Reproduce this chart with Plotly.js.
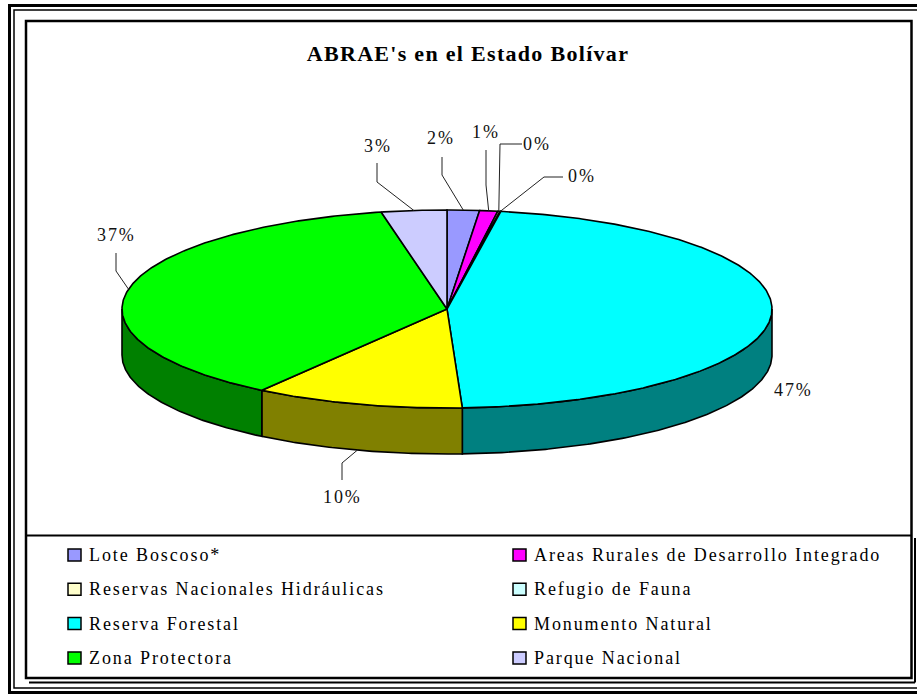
<!DOCTYPE html>
<html><head><meta charset="utf-8">
<script src="https://cdn.plot.ly/plotly-3.0.1.min.js"></script>
<style>
html,body{margin:0;padding:0;background:#fff;}
#chart{width:917px;height:694px;}
.annotation-text{letter-spacing:1.9px;}
.gtitle{letter-spacing:1.3px;}
</style></head><body><div id="chart"></div>
<script>
// ---- data ----
const categories = ["Lote Boscoso*", "Areas Rurales de Desarrollo Integrado", "Reservas Nacionales Hidráulicas", "Refugio de Fauna", "Reserva Forestal", "Monumento Natural", "Zona Protectora", "Parque Nacional"];
const values = [1.6, 0.9, 0.1, 0.05, 46.6, 10.4, 37.1, 3.25];
const topColors = ["#9999FF", "#FF00FF", "#FFFFCC", "#CCFFFF", "#00FFFF", "#FFFF00", "#00FF00", "#CCCCFF"];
const sideColors = ["#4D4D80", "#800080", "#808066", "#668080", "#008080", "#808000", "#008000", "#666680"];

// ---- layout constants (pixel space) ----
const CX = 447, CY = 309, RX = 325, RY = 99, DEPTH = 46;
const SERIF = "Liberation Serif, Times New Roman, serif";
// label centre and leader-line start/elbow for each slice
const labelLayout = [
  {x: 441, y: 138, leader: [[442, 157], [442, 175]]},
  {x: 486, y: 132, leader: [[486, 150], [486, 185]]},
  {x: 537, y: 144, leader: [[522, 144], [500, 144]]},
  {x: 582, y: 176, leader: [[563, 177], [544, 177]]},
  {x: 793, y: 390, leader: null},
  {x: 342, y: 497, leader: [[342, 480], [342, 463]]},
  {x: 116, y: 235, leader: [[116, 253], [116, 271]]},
  {x: 378, y: 146, leader: [[377, 163], [377, 182]]}
];

const total = values.reduce((a, b) => a + b, 0);
function pt(t, dz) {
  const r = t * Math.PI / 180;
  return [CX + RX * Math.sin(r), CY - RY * Math.cos(r) + (dz || 0)];
}
function arc(a, b, dz) {
  const pts = [];
  const n = Math.max(2, Math.ceil(Math.abs(b - a) / 0.5));
  for (let k = 0; k <= n; k++) pts.push(pt(a + (b - a) * k / n, dz));
  return pts;
}

const walls = [], tops = [];
const starts = [], ends = [];
let acc = 0;
values.forEach((v, i) => {
  const a = acc / total * 360;
  acc += v;
  const b = acc / total * 360;
  starts.push(a); ends.push(b);
  // top sector
  const tp = [[CX, CY]].concat(arc(a, b, 0)).concat([[CX, CY]]);
  tops.push({
    type: "scatter", mode: "lines", fill: "toself",
    x: tp.map(p => p[0]), y: tp.map(p => p[1]),
    fillcolor: topColors[i], line: {color: "#000", width: 1.6},
    name: categories[i], showlegend: false, hoverinfo: "name"
  });
  // front wall
  const wa = Math.max(a, 90), wb = Math.min(b, 270);
  if (wb > wa) {
    const up = arc(wa, wb, 0), dn = arc(wa, wb, DEPTH).reverse();
    const wp = up.concat(dn).concat([up[0]]);
    walls.push({
      type: "scatter", mode: "lines", fill: "toself",
      x: wp.map(p => p[0]), y: wp.map(p => p[1]),
      fillcolor: sideColors[i], line: {color: "#000", width: 1.6},
      name: categories[i], showlegend: false, hoverinfo: "skip"
    });
  }
});

const shapes = [], annotations = [];
// frames
shapes.push({type: "rect", xref: "x", yref: "y", x0: 9.5, y0: 5.5, x1: 940, y1: 692.5, line: {color: "#000", width: 3}});
shapes.push({type: "rect", xref: "x", yref: "y", x0: 14, y0: 10, x1: 935, y1: 688, line: {color: "#000", width: 1.5}});
shapes.push({type: "rect", xref: "x", yref: "y", x0: 26, y0: 21, x1: 911.5, y1: 678, line: {color: "#000", width: 2.5}});
shapes.push({type: "line", xref: "x", yref: "y", x0: 26, y0: 535.5, x1: 911.5, y1: 535.5, line: {color: "#000", width: 2}});
shapes.push({type: "line", xref: "x", yref: "y", x0: 29, y0: 682.5, x1: 915, y1: 682.5, line: {color: "#000", width: 2}});
shapes.push({type: "line", xref: "x", yref: "y", x0: 915, y0: 538, x1: 915, y1: 682.5, line: {color: "#000", width: 2}});

// percent labels + leader lines
values.forEach((v, i) => {
  const L = labelLayout[i];
  annotations.push({
    x: L.x, y: L.y, xref: "x", yref: "y", showarrow: false,
    text: Math.round(v / total * 100) + "%",
    font: {family: SERIF, size: 18, color: "#111"}, xanchor: "center", yanchor: "middle"
  });
  if (L.leader) {
    const mid = (starts[i] + ends[i]) / 2;
    const e = pt(mid, (mid > 90 && mid < 270) ? DEPTH : 0);
    const p = L.leader.concat([e]);
    shapes.push({type: "path", xref: "x", yref: "y",
      path: "M" + p.map(q => q[0].toFixed(1) + "," + q[1].toFixed(1)).join("L"),
      line: {color: "#222", width: 1}});
  }
});

// legend (two columns)
categories.forEach((c, i) => {
  const col = i % 2, row = Math.floor(i / 2);
  const yc = 555 + row * 34.3;
  const x0 = 68 + col * 445;
  shapes.push({type: "rect", xref: "x", yref: "y", x0: x0, x1: x0 + 13, y0: yc - 6, y1: yc + 6,
    fillcolor: topColors[i], line: {color: "#000", width: 1.5}});
  annotations.push({
    x: x0 + 19, y: yc, xref: "x", yref: "y", showarrow: false, text: c,
    font: {family: SERIF, size: 18, color: "#000"}, xanchor: "left", yanchor: "middle"
  });
});

const layout = {
  width: 917, height: 694,
  margin: {l: 0, r: 0, t: 0, b: 0, pad: 0},
  paper_bgcolor: "#fff", plot_bgcolor: "#fff",
  showlegend: false,
  title: {text: "ABRAE's en el Estado Bolívar", x: 468 / 917, xanchor: "center", y: 1 - 53 / 694, yanchor: "middle",
    font: {family: SERIF, size: 22, color: "#000", weight: "bold"}},
  xaxis: {range: [0, 917], visible: false, fixedrange: true},
  yaxis: {range: [694, 0], visible: false, fixedrange: true},
  shapes: shapes, annotations: annotations
};

Plotly.newPlot("chart", walls.concat(tops), layout, {displayModeBar: false, staticPlot: true});
</script></body></html>
